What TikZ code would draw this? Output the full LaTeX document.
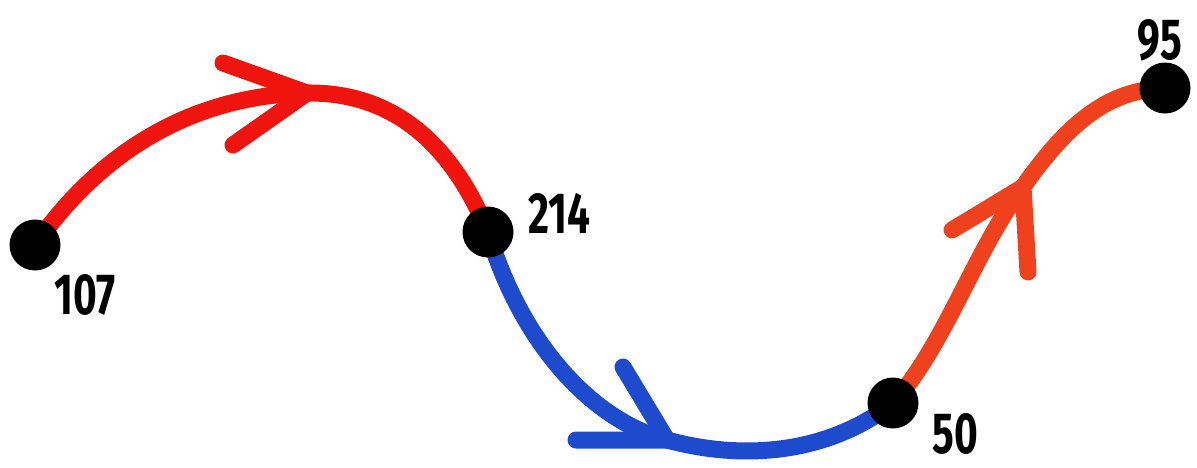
\documentclass[tikz,border=0pt]{standalone}
\usepackage{fontspec}
\setmainfont{Fira Sans}
\usetikzlibrary{backgrounds}
\definecolor{cred}{RGB}{240,20,15}
\definecolor{cblue}{RGB}{30,75,205}
\definecolor{corange}{RGB}{240,65,30}
\tikzset{
  dot/.style={circle,fill=black,inner sep=0pt,minimum size=51pt},
  lbl/.style={font=\fontsize{58}{58}\selectfont\bfseries,inner sep=0pt},
  wire/.style={line width=17pt,line cap=round,line join=round},
}
\newcommand{\narrow}[1]{\scalebox{0.7}[1]{#1}}
\begin{document}
\begin{tikzpicture}[x=1pt,y=-1pt]
\useasboundingbox (0,0) rectangle (1197,467);
\node[dot] (a) at (35,245) {};
\node[dot] (b) at (488,232) {};
\node[dot] (c) at (893,403) {};
\node[dot] (d) at (1165,88) {};
\node[lbl] (la) at (85,295) {\narrow{107}};
\node[lbl] (lb) at (559,213) {\narrow{214}};
\node[lbl] (lc) at (955,434) {\narrow{50}};
\node[lbl] (ld) at (1160,40) {\narrow{95}};
\begin{scope}[on background layer]
\draw[wire,cred] (a.center) .. controls (105,145) and (200,95) .. (307,93)
  .. controls (390,92) and (450,140) .. (b.center);
\draw[wire,cred] (223,63) -- (307,93) -- (233,145);
\draw[wire,cblue] (b.center) .. controls (520,340) and (590,420) .. (667,440)
  .. controls (760,465) and (840,445) .. (c.center);
\draw[wire,cblue] (623,367) -- (667,440) -- (576,440);
\draw[wire,corange] (c.center) .. controls (945,345) and (975,250) .. (1023,187)
  .. controls (1070,120) and (1110,90) .. (d.center);
\draw[wire,corange] (952,230) -- (1023,187) -- (1028,272);
\end{scope}
\end{tikzpicture}
\end{document}
